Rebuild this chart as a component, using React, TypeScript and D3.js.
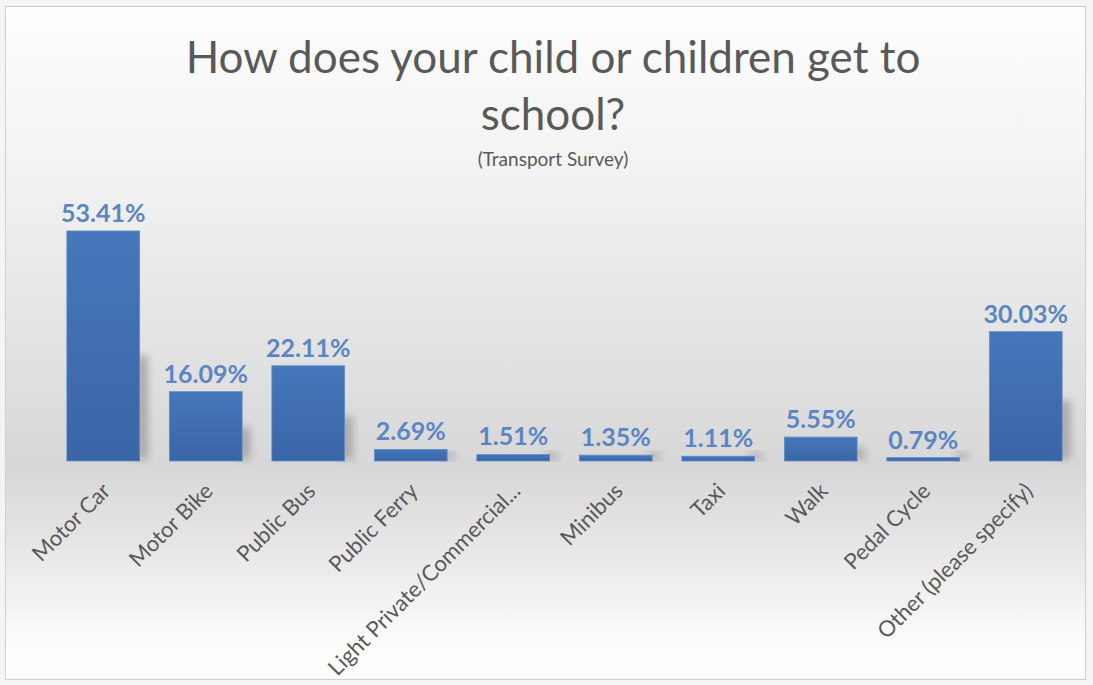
import * as d3 from "d3";

const categories = [
  "Motor Car",
  "Motor Bike",
  "Public Bus",
  "Public Ferry",
  "Light Private/Commercial...",
  "Minibus",
  "Taxi",
  "Walk",
  "Pedal Cycle",
  "Other (please specify)",
];
const values = [53.41, 16.09, 22.11, 2.69, 1.51, 1.35, 1.11, 5.55, 0.79, 30.03];
const titleLines = ["How does your child or children get to", "school?"];
const subtitle = "(Transport Survey)";

const width = 1093;
const height = 685;
const baseline = 461;
const font = "Lato, 'Open Sans', sans-serif";

const App = () => {
  const x = d3
    .scaleBand<string>()
    .domain(categories)
    .range([52, 1077])
    .paddingInner(0.29)
    .paddingOuter(0.145);
  const y = d3.scaleLinear().domain([0, 60]).range([baseline, baseline - 258.4]);

  const data = categories.map((c, i) => ({ cat: c, value: values[i] }));

  return (
    <svg
      width={width}
      height={height}
      style={{ position: "absolute", left: 0, top: 0, fontFamily: font }}
    >
      <defs>
        <linearGradient id="bg" x1="0" y1="0" x2="0" y2="1">
          <stop offset="0" stopColor="#fefefe" />
          <stop offset="0.25" stopColor="#f2f2f2" />
          <stop offset="0.55" stopColor="#e0e0e0" />
          <stop offset="0.68" stopColor="#d7d7d7" />
          <stop offset="0.8" stopColor="#e6e6e6" />
          <stop offset="0.96" stopColor="#fefefe" />
        </linearGradient>
        <linearGradient id="barFill" x1="0" y1="0" x2="0" y2="1">
          <stop offset="0" stopColor="#4677bb" />
          <stop offset="1" stopColor="#3a65a5" />
        </linearGradient>
        <filter id="blur" x="-50%" y="-50%" width="200%" height="200%">
          <feGaussianBlur stdDeviation="4" />
        </filter>
      </defs>

      <rect x={0} y={0} width={width} height={height} fill="#f4f4f4" />
      <rect x={5.5} y={6.5} width={1080} height={673} fill="url(#bg)" stroke="#cfcfcf" />

      {titleLines.map((t, i) => (
        <text
          key={t}
          x={553}
          y={73 + i * 57}
          textAnchor="middle"
          fontSize={44}
          fill="#595959"
        >
          {t}
        </text>
      ))}
      <text x={553} y={166} textAnchor="middle" fontSize={19} fill="#595959">
        {subtitle}
      </text>

      {/* soft shadows behind bars */}
      {data.map((d) => {
        const h = baseline - y(d.value);
        return (
          <rect
            key={"s" + d.cat}
            x={x(d.cat)! + x.bandwidth() - 4}
            y={baseline - Math.max(h * 0.45, 6) - 2}
            width={12}
            height={Math.max(h * 0.45, 6)}
            fill="#7a7a7a"
            opacity={0.55}
            filter="url(#blur)"
          />
        );
      })}

      {data.map((d) => (
        <rect
          key={d.cat}
          x={x(d.cat)}
          y={y(d.value)}
          width={x.bandwidth()}
          height={baseline - y(d.value)}
          fill="url(#barFill)"
          stroke="#5f8cc8"
          strokeWidth={0.8}
        />
      ))}

      {data.map((d) => (
        <text
          key={"v" + d.cat}
          x={x(d.cat)! + x.bandwidth() / 2}
          y={y(d.value) - 9}
          textAnchor="middle"
          fontSize={25}
          fontWeight="bold"
          fill="#5b86c3"
        >
          {d.value.toFixed(2) + "%"}
        </text>
      ))}

      {data.map((d) => (
        <text
          key={"l" + d.cat}
          transform={`translate(${x(d.cat)! + x.bandwidth() / 2 + 3},${baseline + 26}) rotate(-45)`}
          textAnchor="end"
          dy="0.35em"
          fontSize={22}
          fill="#595959"
        >
          {d.cat}
        </text>
      ))}
    </svg>
  );
};

export default App;
